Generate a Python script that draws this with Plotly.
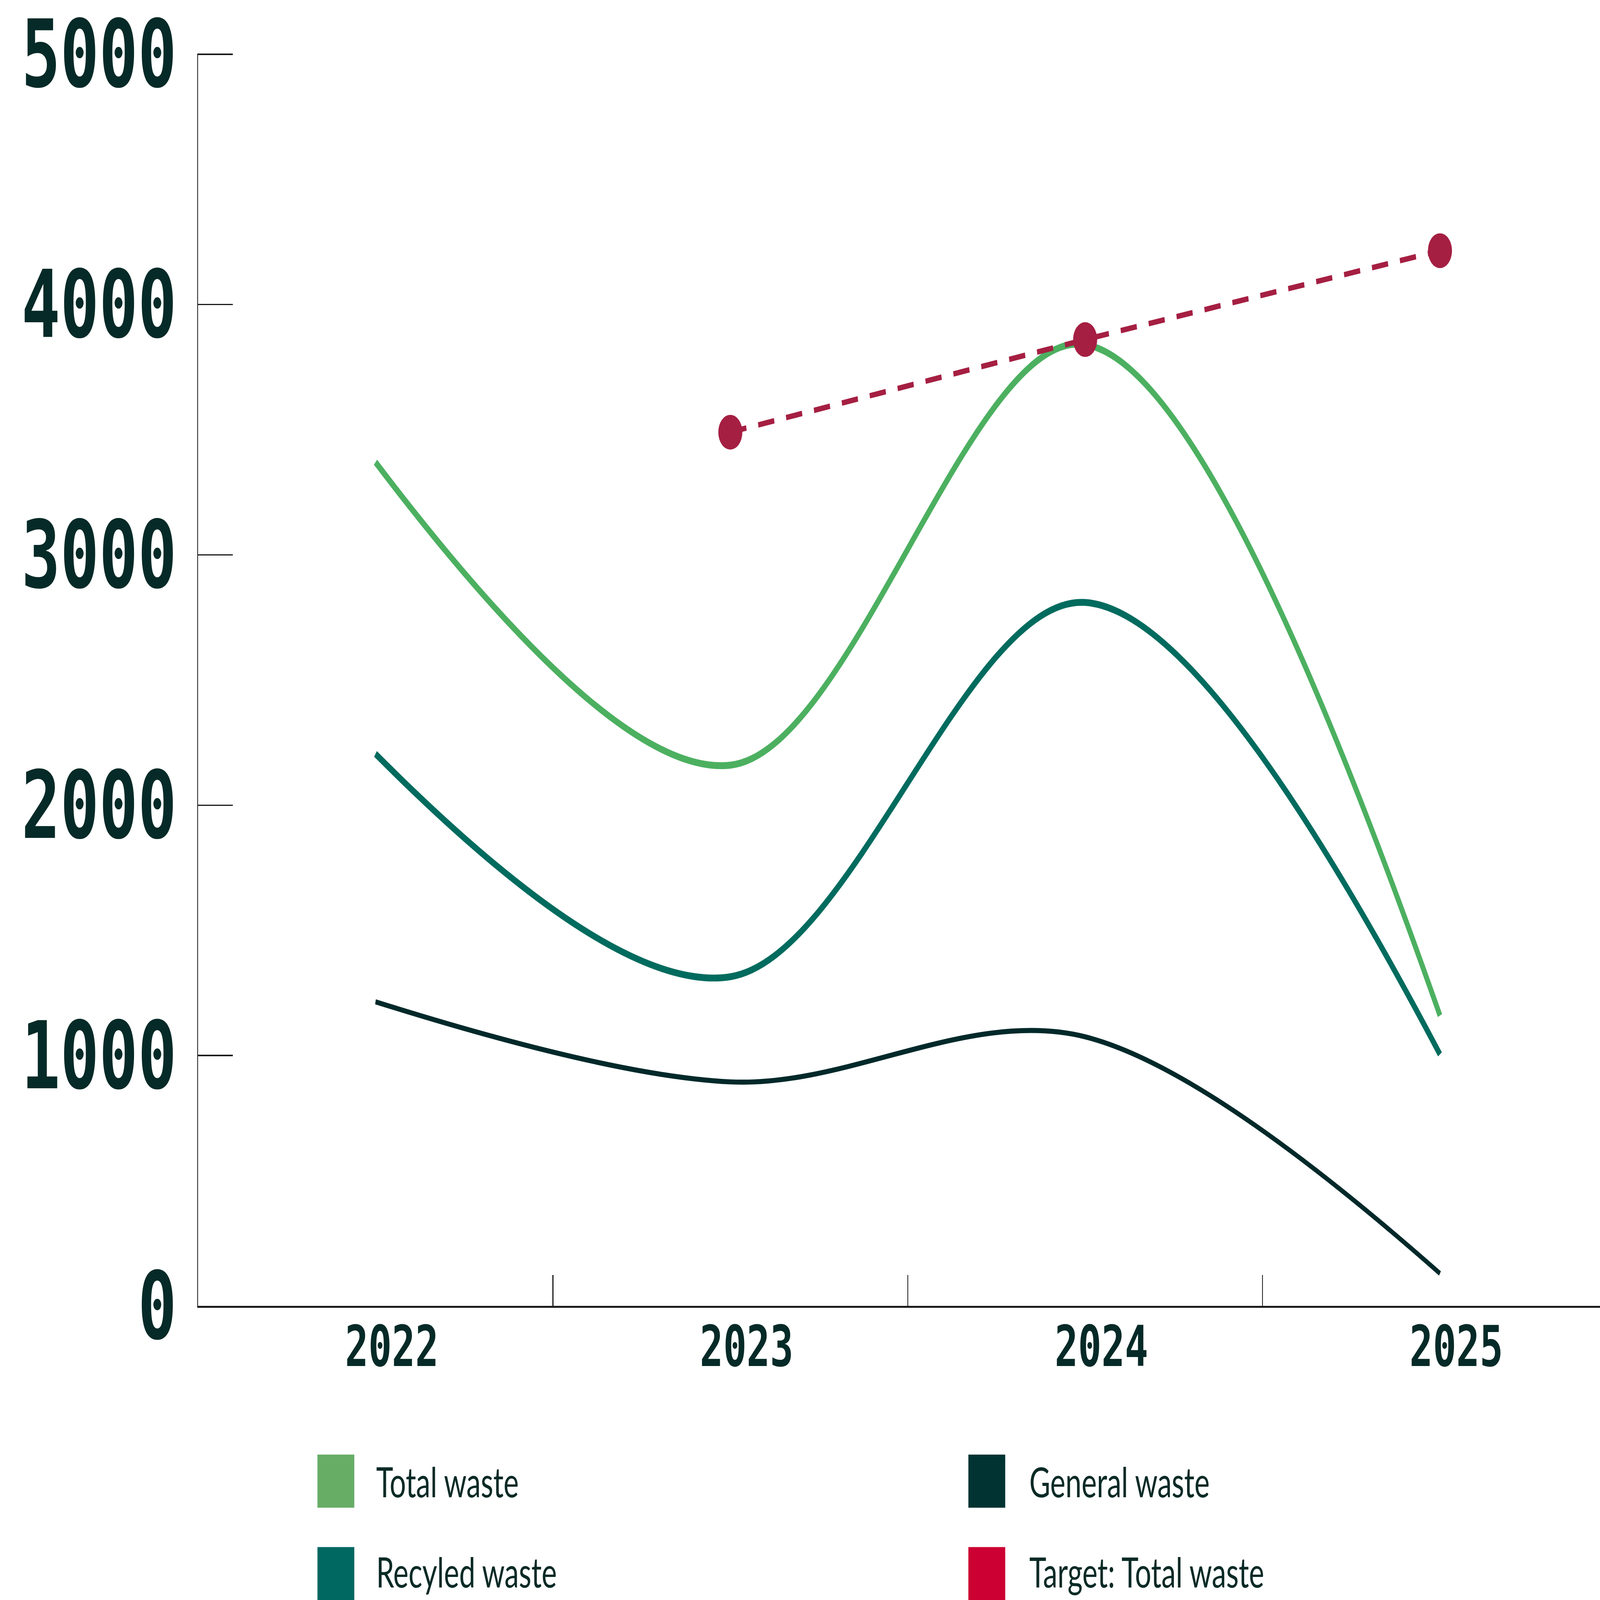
import plotly.graph_objects as go

years = ["2022", "2023", "2024", "2025"]
total_waste = [3370, 2160, 3840, 1160]
recycled_waste = [2205, 1315, 2810, 1005]
general_waste = [1215, 895, 1075, 130]
target_years = ["2023", "2024", "2025"]
target_total = [3490, 3860, 4215]
y_ticks = [0, 1000, 2000, 3000, 4000, 5000]

legend_names = ["Total waste", "Recyled waste", "General waste", "Target: Total waste"]
legend_colors = ["#67ad66", "#006761", "#013333", "#cc0033"]

W, H = 6381, 4413
L, R, T, B = 790, 0, 138, 811

fig = go.Figure()
fig.add_trace(go.Scatter(x=years, y=total_waste, mode="lines", name=legend_names[0],
                         line=dict(color="#4cb060", width=19, shape="spline", smoothing=1.0)))
fig.add_trace(go.Scatter(x=years, y=recycled_waste, mode="lines", name=legend_names[1],
                         line=dict(color="#006b5e", width=19, shape="spline", smoothing=1.0)))
fig.add_trace(go.Scatter(x=years, y=general_waste, mode="lines", name=legend_names[2],
                         line=dict(color="#02292a", width=14, shape="spline", smoothing=1.0)))
fig.add_trace(go.Scatter(x=target_years, y=target_total, mode="lines+markers", name=legend_names[3],
                         line=dict(color="#a51f42", width=15, dash="65px,48px"),
                         marker=dict(color="#a51f42", size=96)))

def px_to_paper_x(px):
    return (px - L) / (W - L - R)

def px_to_paper_y(py):
    return (H - B - py) / (H - B - T)

shapes = []
annotations = []
sw_x = [1266, 3862]
txt_x = [1498, 4103]
sw_y = [4013, 4269]
txt_y = [4086, 4335]
sw = 147
for i, (name, col) in enumerate(zip(legend_names, legend_colors)):
    c = i // 2
    r = i % 2
    shapes.append(dict(type="rect", xref="paper", yref="paper",
                       x0=px_to_paper_x(sw_x[c]), x1=px_to_paper_x(sw_x[c] + sw),
                       y0=px_to_paper_y(sw_y[r] + sw), y1=px_to_paper_y(sw_y[r]),
                       fillcolor=col, line=dict(width=0)))
    annotations.append(dict(xref="paper", yref="paper", x=px_to_paper_x(txt_x[c]),
                            y=px_to_paper_y(txt_y[r]), text=name, showarrow=False,
                            xanchor="left", yanchor="middle",
                            font=dict(family="Lato", size=115, color="#0a2a26", weight=400)))

fig.update_layout(
    width=W, height=H,
    margin=dict(l=L, r=R, t=T, b=B, pad=0),
    paper_bgcolor="white", plot_bgcolor="white",
    showlegend=False,
    shapes=shapes, annotations=annotations,
)
fig.update_xaxes(
    type="category", categoryorder="array", categoryarray=years,
    range=[-0.5, 3.451], showgrid=False, zeroline=False,
    showline=True, linecolor="#1a1a1a", linewidth=5,
    ticks="inside", tickson="boundaries", ticklen=85, tickwidth=4, tickcolor="#1a1a1a",
    tickfont=dict(family="DejaVu Sans Mono", size=155, color="#052a27", weight="bold"),
    ticklabelstandoff=-25, ticklabelshift=65, ticklabeloverflow="allow",
)
fig.update_yaxes(
    range=[0, 5002], tickvals=y_ticks, ticktext=[str(v) for v in y_ticks],
    showgrid=False, zeroline=False,
    showline=True, linecolor="#1a1a1a", linewidth=4,
    ticks="inside", ticklen=138, tickwidth=4, tickcolor="#1a1a1a",
    tickfont=dict(family="DejaVu Sans Mono", size=257, color="#052a27", weight="bold"),
    ticklabelstandoff=30, ticklabeloverflow="allow",
)

# Fit the 6381x4413 canvas into whatever browser window is actually available.
post = """
(function(){
  var gd = document.getElementById('{plot_id}');
  document.documentElement.style.margin = '0';
  document.body.style.margin = '0';
  document.body.style.overflow = 'hidden';
  var sx = window.innerWidth / %d, sy = window.innerHeight / %d;
  if (Math.abs(sx - 1) > 1e-3 || Math.abs(sy - 1) > 1e-3) {
    gd.style.transformOrigin = '0 0';
    gd.style.transform = 'scale(' + sx + ',' + sy + ')';
  }
})();
""" % (W, H)
fig.write_html("out.html", post_script=post, config={"displayModeBar": False})
